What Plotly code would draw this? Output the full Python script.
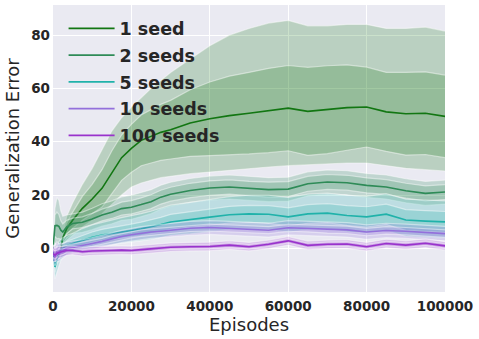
import plotly.graph_objects as go

# ---------------- data ----------------
EPISODES = [0, 500, 1000, 1500, 2000, 2500, 3500, 5000, 7500, 10000, 12500, 15000,
            17500, 20000, 22500, 25000, 27500, 30000, 35000, 40000, 45000, 50000,
            55000, 60000, 65000, 70000, 75000, 80000, 85000, 90000, 95000, 100000]

SERIES_NAMES = ["1 seed", "2 seeds", "5 seeds", "10 seeds", "100 seeds"]
SERIES_COLORS = ["#127612", "#2E8B57", "#20B2AA", "#9370DB", "#9932CC"]

# 1 seed (no evaluation before 2000 episodes)
seed1_mean = [None, None, None, None, 0.0, 4.0, 7.4, 10.5, 15.0, 18.5, 22.5, 28.5,
              34.0, 37.5, 40.5, 42.0, 43.5, 44.5, 47.0, 48.6, 49.8, 50.7,
              51.7, 52.6, 51.4, 52.0, 52.8, 53.0, 51.2, 50.5, 50.7, 49.5]
seed1_std = [None, None, None, None, 0.5, 1.0, 2.0, 3.0, 4.5, 5.5, 7.0, 8.0,
             8.5, 9.0, 9.5, 10.0, 10.5, 11.0, 12.5, 13.8, 14.8, 15.3,
             15.8, 16.0, 16.5, 16.5, 16.0, 15.0, 14.8, 15.5, 15.5, 15.5]
seed1_lo = [None, None, None, None, -0.5, 1.0, 3.0, 5.0, 8.0, 10.5, 13.0, 16.5,
            20.0, 23.0, 24.5, 25.5, 26.5, 27.0, 28.0, 28.6, 29.3, 30.0,
            30.5, 31.0, 31.3, 31.5, 32.0, 32.0, 31.0, 30.0, 29.5, 29.0]
seed1_hi = [None, None, None, None, 0.5, 5.0, 12.0, 17.0, 24.0, 30.0, 37.0, 44.0,
            49.0, 53.0, 56.5, 60.0, 63.0, 66.0, 71.0, 76.0, 80.0, 82.5,
            84.5, 85.5, 83.5, 83.5, 84.0, 84.0, 82.5, 82.5, 83.0, 81.5]

# 2 seeds
seed2_mean = [0.0, 8.5, 8.6, 8.2, 6.8, 6.1, 8.0, 9.3, 9.8, 11.0, 12.5, 13.5,
              14.9, 15.4, 16.4, 17.5, 19.2, 20.3, 21.7, 22.6, 23.0, 22.4,
              22.0, 22.2, 24.2, 24.9, 24.6, 23.6, 23.0, 21.6, 20.6, 21.1]
seed2_std = [0.5, 4.0, 5.0, 4.5, 3.5, 3.0, 2.5, 2.0, 2.0, 2.1, 2.2, 2.3,
             2.4, 2.5, 2.5, 2.6, 2.6, 2.6, 2.7, 2.7, 2.7, 2.7,
             2.8, 2.8, 2.8, 2.8, 2.8, 2.8, 2.8, 2.8, 2.8, 2.8]
seed2_lo = [-0.5, 2.0, 1.5, 1.8, 1.5, 1.8, 4.0, 5.5, 6.0, 7.0, 8.3, 9.2,
            10.5, 10.9, 11.9, 13.0, 14.7, 15.8, 17.2, 18.1, 18.5, 17.9,
            17.5, 17.7, 19.7, 20.4, 20.1, 19.1, 18.5, 17.1, 16.1, 16.6]
seed2_hi = [0.5, 15.0, 19.0, 18.0, 14.0, 12.0, 12.5, 13.0, 13.6, 15.0, 16.7, 17.8,
            19.3, 19.9, 20.9, 22.0, 23.7, 24.8, 26.2, 27.1, 27.5, 26.9,
            26.5, 26.7, 28.7, 29.4, 29.1, 28.1, 27.5, 26.1, 25.1, 25.6]

# 5 seeds
seed5_mean = [-1.4, -7.0, -4.0, -2.0, -0.5, 0.2, 1.1, 1.8, 3.0, 4.1, 5.0, 5.5,
              6.2, 6.7, 7.3, 8.0, 8.9, 9.9, 10.7, 11.7, 12.6, 12.9,
              12.75, 11.8, 12.9, 13.2, 12.3, 11.8, 12.8, 10.6, 10.2, 9.9]
seed5_std = [1.0, 2.0, 2.0, 1.8, 1.6, 1.5, 1.5, 1.6, 1.8, 2.0, 2.1, 2.2,
             2.3, 2.4, 2.5, 2.6, 2.7, 2.8, 2.9, 3.0, 3.1, 3.2,
             3.3, 3.4, 3.5, 3.6, 3.7, 3.8, 3.8, 3.9, 3.9, 3.9]
seed5_lo = [-4.0, -11.5, -9.0, -6.5, -4.5, -3.5, -2.2, -1.6, -0.6, 0.3, 1.0, 1.4,
            1.9, 2.3, 2.8, 3.3, 4.0, 4.8, 5.4, 6.2, 7.0, 7.2,
            7.0, 6.0, 7.0, 7.2, 6.2, 5.7, 6.6, 4.5, 4.1, 3.8]
seed5_hi = [1.5, -3.0, 0.5, 2.5, 3.5, 4.0, 4.8, 5.6, 7.4, 8.8, 9.8, 10.6,
            11.5, 12.2, 13.0, 13.9, 15.0, 16.2, 17.2, 18.4, 19.4, 19.9,
            19.9, 19.1, 20.3, 20.7, 19.9, 19.5, 20.5, 18.4, 18.0, 17.8]

# 10 seeds
seed10_mean = [-2.0, -3.0, -1.5, -2.0, -1.0, -1.0, -0.1, 0.4, 1.1, 1.8, 2.6, 3.6,
               4.4, 5.1, 5.7, 6.1, 6.4, 6.8, 7.5, 7.8, 7.5, 7.2,
               6.8, 7.7, 7.5, 7.1, 6.9, 6.1, 6.7, 6.4, 5.9, 5.5]
seed10_std = [1.5, 2.0, 2.0, 1.8, 1.6, 1.5, 1.3, 1.2, 1.1, 1.1, 1.1, 1.1,
              1.1, 1.2, 1.2, 1.2, 1.2, 1.2, 1.2, 1.3, 1.3, 1.3,
              1.3, 1.3, 1.3, 1.4, 1.4, 1.4, 1.4, 1.4, 1.4, 1.4]
seed10_lo = [-5.0, -6.5, -5.0, -5.0, -4.0, -3.8, -2.6, -1.9, -1.0, -0.4, 0.4, 1.4,
             2.1, 2.7, 3.3, 3.7, 4.0, 4.3, 4.9, 5.2, 4.9, 4.6,
             4.2, 5.0, 4.8, 4.4, 4.2, 3.4, 4.0, 3.7, 3.2, 2.8]
seed10_hi = [1.0, 1.0, 2.5, 1.5, 2.0, 1.8, 2.4, 2.7, 3.2, 4.0, 4.8, 5.8,
             6.7, 7.5, 8.1, 8.5, 8.8, 9.3, 10.1, 10.4, 10.1, 9.8,
             9.4, 10.4, 10.2, 9.8, 9.6, 8.8, 9.4, 9.1, 8.6, 8.2]

# 100 seeds
seed100_mean = [-2.0, -2.5, -2.0, -1.5, -1.4, -1.2, -0.8, -0.8, -1.3, -1.0, -0.8, -0.8,
                -0.7, -0.8, -0.5, -0.2, 0.1, 0.4, 0.6, 0.7, 1.2, 0.6,
                1.5, 2.8, 1.1, 1.5, 1.6, 0.6, 1.8, 1.2, 1.9, 0.9]
seed100_std = [1.5, 1.5, 1.3, 1.2, 1.1, 1.0, 0.9, 0.8, 0.8, 0.8, 0.8, 0.8,
               0.8, 0.8, 0.8, 0.8, 0.8, 0.8, 0.8, 0.8, 0.8, 0.8,
               0.8, 0.8, 0.8, 0.8, 0.8, 0.8, 0.8, 0.8, 0.8, 0.8]
seed100_lo = [-5.0, -5.0, -4.5, -3.8, -3.5, -3.2, -2.6, -2.4, -2.9, -2.6, -2.4, -2.4,
              -2.3, -2.4, -2.1, -1.8, -1.5, -1.2, -1.0, -0.9, -0.4, -1.0,
              -0.1, 1.2, -0.5, -0.1, 0.0, -1.0, 0.2, -0.4, 0.3, -0.7]
seed100_hi = [1.0, 0.0, 0.5, 0.8, 0.7, 0.8, 1.0, 0.8, 0.3, 0.6, 0.8, 0.8,
              0.9, 0.8, 1.1, 1.4, 1.7, 2.0, 2.2, 2.3, 2.8, 2.2,
              3.1, 4.4, 2.7, 3.1, 3.2, 2.2, 3.4, 2.8, 3.5, 2.5]

X_TICKS = [0, 20000, 40000, 60000, 80000, 100000]
Y_TICKS = [0, 20, 40, 60, 80]

SERIES = [
    (seed1_mean, seed1_std, seed1_lo, seed1_hi),
    (seed2_mean, seed2_std, seed2_lo, seed2_hi),
    (seed5_mean, seed5_std, seed5_lo, seed5_hi),
    (seed10_mean, seed10_std, seed10_lo, seed10_hi),
    (seed100_mean, seed100_std, seed100_lo, seed100_hi),
]

# ---------------- styling ----------------
BG = "#EAEAF2"
TEXT = "#262626"
FONT = "DejaVu Sans"
BAND_ALPHA = 0.22
EDGE = "rgba(255,255,255,0.45)"


def rgba(hex_color, a):
    h = hex_color.lstrip("#")
    r, g, b = int(h[0:2], 16), int(h[2:4], 16), int(h[4:6], 16)
    return f"rgba({r},{g},{b},{a})"


fig = go.Figure()

for name, color, (mean, std, lo, hi) in zip(SERIES_NAMES, SERIES_COLORS, SERIES):
    idx = [i for i, m in enumerate(mean) if m is not None]
    xs = [EPISODES[i] for i in idx]
    m = [mean[i] for i in idx]
    s = [std[i] for i in idx]
    olo = [lo[i] for i in idx]
    ohi = [hi[i] for i in idx]
    ilo = [a - b for a, b in zip(m, s)]
    ihi = [a + b for a, b in zip(m, s)]

    common = dict(mode="lines", line=dict(color=EDGE, width=1.2), showlegend=False,
                  hoverinfo="skip", legendgroup=name)
    # outer band
    fig.add_trace(go.Scatter(x=xs, y=olo, **common))
    fig.add_trace(go.Scatter(x=xs, y=ohi, fill="tonexty",
                             fillcolor=rgba(color, BAND_ALPHA), **common))
    # inner band
    fig.add_trace(go.Scatter(x=xs, y=ilo, **common))
    fig.add_trace(go.Scatter(x=xs, y=ihi, fill="tonexty",
                             fillcolor=rgba(color, BAND_ALPHA), **common))
    # mean line
    fig.add_trace(go.Scatter(x=xs, y=m, mode="lines", name=name, legendgroup=name,
                             line=dict(color=color, width=1.6)))

fig.update_layout(
    width=479, height=339,
    margin=dict(l=53, r=34, t=5, b=47),
    paper_bgcolor="white",
    plot_bgcolor=BG,
    font=dict(family=FONT, color=TEXT),
    legend=dict(
        x=0.027, y=0.981, xanchor="left", yanchor="top",
        traceorder="grouped", tracegroupgap=1,
        bgcolor="rgba(0,0,0,0)", borderwidth=0,
        font=dict(family=FONT, size=17.5, color=TEXT, weight="bold"),
        itemwidth=46,
    ),
    xaxis=dict(
        range=[0, 100000], tickvals=X_TICKS, tickformat="d",
        showgrid=True, gridcolor="white", gridwidth=1, zeroline=False,
        showline=False, ticks="", automargin=False, ticklabelstandoff=4,
        tickfont=dict(family=FONT, size=13.5, color=TEXT, weight="bold"),
        title=dict(text="Episodes", font=dict(family=FONT, size=18, color=TEXT), standoff=5),
    ),
    yaxis=dict(
        range=[-16.4, 91.3], tickvals=Y_TICKS,
        showgrid=True, gridcolor="white", gridwidth=1, zeroline=False,
        showline=False, ticks="", automargin=False, ticklabelstandoff=2,
        tickfont=dict(family=FONT, size=13.5, color=TEXT, weight="bold"),
        title=dict(text="Generalization Error", font=dict(family=FONT, size=18, color=TEXT), standoff=6),
    ),
)

fig.write_html("out.html", config={"displayModeBar": False},
               post_script="document.body.style.margin='0';")
